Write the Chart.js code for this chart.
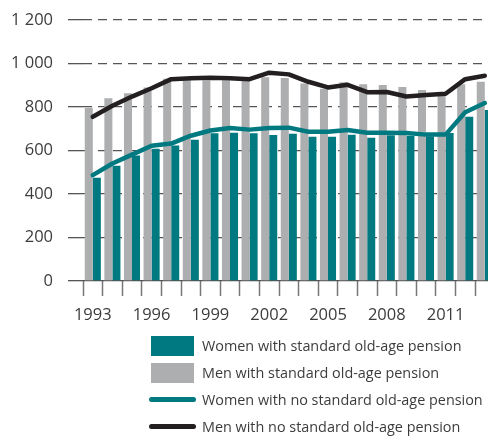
<!DOCTYPE html>
<html>
<head>
<meta charset="utf-8">
<script src="https://cdn.jsdelivr.net/npm/chart.js@4.4.1/dist/chart.umd.min.js"></script>
<style>
  html, body { margin: 0; padding: 0; background: #fff; overflow: hidden; }
  #wrap { position: relative; width: 488px; height: 437px; overflow: hidden; }
  #box { position: absolute; left: 0; top: 0; width: 500px; height: 335px; }
  #legend { position: absolute; left: 149px; top: 332px; font-family: 'Open Sans', sans-serif; font-size: 14.4px; color: #3c3c3c; white-space: nowrap; }
  .row { height: 27px; display: flex; align-items: center; }
  .sw { width: 47px; flex: none; display: flex; justify-content: center; align-items: center; margin-right: 6px; }
  .bar { width: 43px; height: 20px; }
  .ln { width: 47px; height: 5px; border-radius: 3px; }
</style>
</head>
<body>
<div id="wrap">
  <div id="box"><canvas id="myChart"></canvas></div>
  <div id="legend"></div>
</div>
<script>
const years = ['1993','1994','1995','1996','1997','1998','1999','2000','2001','2002','2003',
  '2004','2005','2006','2007','2008','2009','2010','2011','2012','2013'];
const menStandard = [797, 840, 863, 890, 930, 930, 922, 923, 924, 937, 933, 908, 884, 914, 905, 901, 892, 878, 865, 905, 916];
const womenStandard = [475, 530, 577, 608, 623, 650, 679, 682, 679, 671, 677, 663, 663, 672, 659, 670, 668, 666, 681, 755, 786];
const menNoStandard = [755, 806, 848, 886, 928, 932, 935, 932, 928, 958, 950, 916, 890, 902, 868, 869, 848, 855, 861, 928, 944];
const womenNoStandard = [487, 540, 581, 622, 632, 668, 692, 703, 696, 703, 705, 686, 686, 694, 682, 682, 680, 673, 673, 776, 818];
const yTicks = [0, 200, 400, 600, 800, 1000, 1200];

const teal = '#007a80';
const grey = '#adaeb0';
const black = '#231f20';
const font = "'Open Sans', sans-serif";

const ctx = document.getElementById('myChart');

new Chart(ctx, {
  type: 'bar',
  data: {
    labels: years,
    datasets: [
      { label: 'Men with standard old-age pension', data: menStandard, backgroundColor: grey,
        order: 3, barPercentage: 1, categoryPercentage: 0.82 },
      { label: 'Women with standard old-age pension', data: womenStandard, backgroundColor: teal,
        order: 3, barPercentage: 1, categoryPercentage: 0.82 },
      { type: 'line', label: 'Women with no standard old-age pension', data: womenNoStandard,
        borderColor: teal, borderWidth: 4.5, pointRadius: 0, tension: 0,
        borderCapStyle: 'round', borderJoinStyle: 'round', order: 1 },
      { type: 'line', label: 'Men with no standard old-age pension', data: menNoStandard,
        borderColor: black, borderWidth: 4.5, pointRadius: 0, tension: 0,
        borderCapStyle: 'round', borderJoinStyle: 'round', order: 1 }
    ]
  },
  options: {
    responsive: true,
    maintainAspectRatio: false,
    animation: false,
    layout: { padding: { top: 20, right: 5.4, left: 0, bottom: 0 } },
    plugins: { legend: { display: false }, tooltip: { enabled: false } },
    scales: {
      x: {
        grid: { drawOnChartArea: false, drawTicks: true, tickLength: 15, tickColor: '#777', tickWidth: 1.5, offset: true },
        border: { display: false },
        ticks: {
          autoSkip: false, maxRotation: 0, padding: 9, color: '#3c3c3c',
          font: { family: font, size: 16.5 },
          callback: function(v, i) { return i % 3 === 0 ? years[i] : ''; }
        },
        afterFit: function(scale) { scale.height = 54; }
      },
      y: {
        min: 0, max: 1200,
        afterBuildTicks: function(scale) { scale.ticks = yTicks.map(v => ({ value: v })); },
        grid: { color: '#555', lineWidth: 1.3, tickLength: 15, tickColor: '#555', tickWidth: 1.3 },
        border: { display: false, dash: function(c) { return c.tick && c.tick.value === 0 ? [] : [9, 6]; } },
        ticks: {
          padding: 15, color: '#3c3c3c',
          font: { family: font, size: 16.5 },
          callback: function(v) { return String(v).replace(/\B(?=(\d{3})+(?!\d))/g, ' '); }
        },
        afterFit: function(scale) {
          scale.width = 83;
          scale.paddingTop = 0;
          scale.paddingBottom = 0;
        }
      }
    }
  }
});

const legendItems = [
  { label: 'Women with standard old-age pension', color: teal, kind: 'bar' },
  { label: 'Men with standard old-age pension', color: grey, kind: 'bar' },
  { label: 'Women with no standard old-age pension', color: teal, kind: 'ln' },
  { label: 'Men with no standard old-age pension', color: black, kind: 'ln' }
];
const legend = document.getElementById('legend');
legendItems.forEach(function(it) {
  const row = document.createElement('div');
  row.className = 'row';
  row.innerHTML = '<div class="sw"><div class="' + it.kind + '" style="background:' + it.color + '"></div></div><span>' + it.label + '</span>';
  legend.appendChild(row);
});
</script>
</body>
</html>
